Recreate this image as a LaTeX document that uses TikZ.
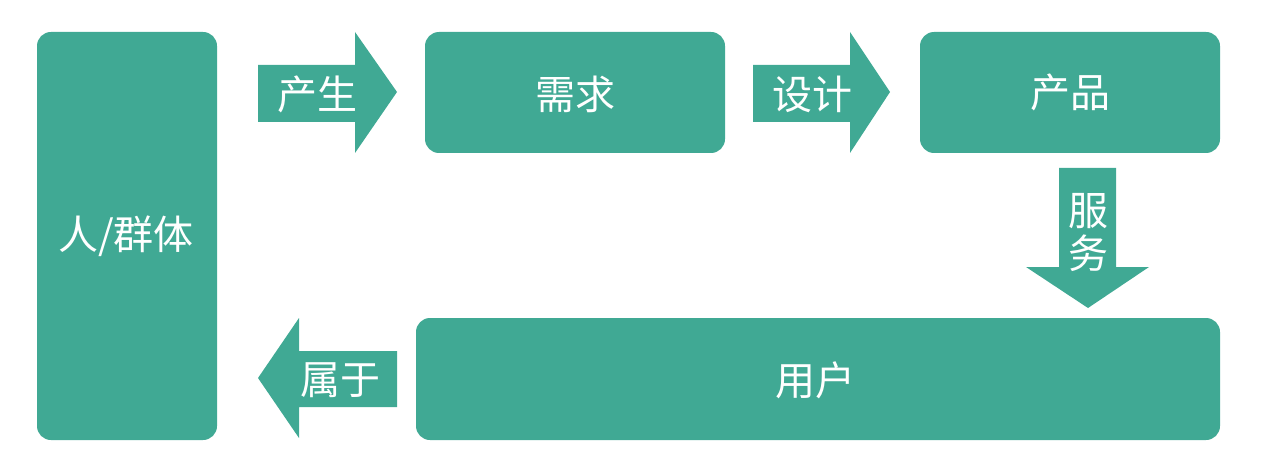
\documentclass[tikz,border=0pt]{standalone}
\usepackage{fontspec}
\newfontfamily\cjk{Noto Sans CJK SC}
\definecolor{teal1}{HTML}{40A994}
\begin{document}
\begin{tikzpicture}[x=1pt,y=-1pt,
  box/.style={fill=teal1,rounded corners=14pt},
  blockarrow/.style={fill=teal1},
  lbl/.style={text=white,font=\cjk\fontsize{40}{43}\selectfont,inner sep=0pt}]
\useasboundingbox (0,0) rectangle (1281,465);
% boxes
\fill[box] (37,32) rectangle (217,440);
\node[lbl] (people) at (126,236) {人/群体};
\fill[box] (425,32) rectangle (725,153);
\node[lbl] (need) at (575,94) {需求};
\fill[box] (920,32) rectangle (1220,153);
\node[lbl] (product) at (1070,92) {产品};
\fill[box] (416,318) rectangle (1220,440);
\node[lbl] (user) at (815,380) {用户};
% arrows
\fill[blockarrow] (258,65) -- (355,65) -- (355,32) -- (397,92) -- (355,153) -- (355,122) -- (258,122) -- cycle;
\node[lbl] (produce) at (317,94) {产生};
\fill[blockarrow] (753,65) -- (850,65) -- (850,32) -- (890,92) -- (850,153) -- (850,122) -- (753,122) -- cycle;
\node[lbl] (design) at (812,94) {设计};
\fill[blockarrow] (1059,168) -- (1116,168) -- (1116,267) -- (1149,267) -- (1088,308) -- (1026,267) -- (1059,267) -- cycle;
\node[lbl,align=center] (serve) at (1088,232) {服\\务};
\fill[blockarrow] (397,351) -- (299,351) -- (299,318) -- (258,378) -- (299,438) -- (299,407) -- (397,407) -- cycle;
\node[lbl] (belong) at (340,380) {属于};
\end{tikzpicture}
\end{document}
